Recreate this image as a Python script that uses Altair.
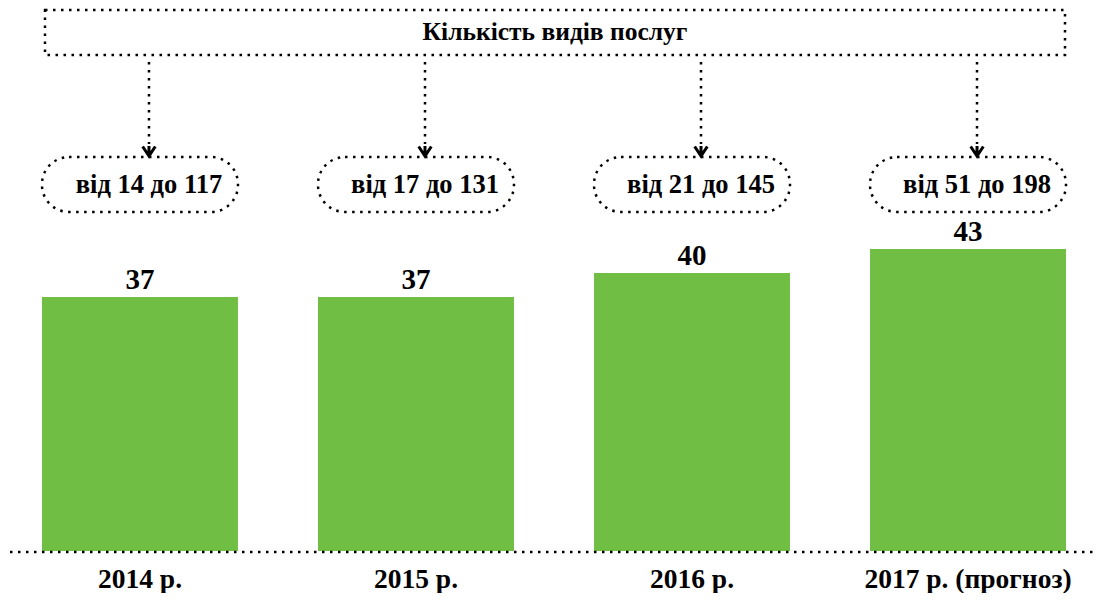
import altair as alt
import pandas as pd

# ---- data ----
years = ["2014 р.", "2015 р.", "2016 р.", "2017 р. (прогноз)"]
counts = [37, 37, 40, 43]
ranges = ["від 14 до 117", "від 17 до 131", "від 21 до 145", "від 51 до 198"]
header = ["Кількість видів послуг"]
axis_floor = 5.25  # value at which the dotted base line sits

df = pd.DataFrame({"year": years, "count": counts, "range": ranges})
hdr = pd.DataFrame({"t": header})

W, H = 1085, 585
FONT = "Liberation Serif"
GREEN = "#70bf44"
DOT = [2.5, 5.5]

xs = alt.X("year:N", sort=years, axis=None,
           scale=alt.Scale(range=[34, 1058], paddingInner=0.29, paddingOuter=0))
ys = alt.Y("count:Q", axis=None, scale=alt.Scale(domain=[0, 73.125]))

base = alt.Chart(df)

bars = base.mark_bar(color=GREEN).encode(x=xs, y=ys, y2=alt.datum(axis_floor))

values = base.mark_text(font=FONT, fontWeight="bold", fontSize=29, baseline="alphabetic",
                        dy=-8, color="black").encode(x=xs, y=ys, text="count:Q")

xlabels = base.mark_text(font=FONT, fontWeight="bold", fontSize=27.5, baseline="alphabetic",
                         color="black").encode(x=xs, y=alt.value(580), text="year:N")

baseline_rule = alt.Chart(hdr).mark_rule(color="black", strokeWidth=2.5, strokeDash=DOT).encode(
    x=alt.value(2), x2=alt.value(W), y=alt.value(544))

pills = base.mark_bar(fill="white", fillOpacity=0, stroke="black", strokeWidth=2.5,
                      strokeDash=DOT, cornerRadius=27).encode(
    x=xs, y=alt.value(149), y2=alt.value(204))

pill_text = base.mark_text(font=FONT, fontWeight="bold", fontSize=26.5, baseline="alphabetic",
                           xOffset=9, color="black").encode(x=xs, y=alt.value(185), text="range:N")

arrows = base.mark_rule(color="black", strokeWidth=2.5, strokeDash=DOT, xOffset=9).encode(
    x=xs, y=alt.value(54), y2=alt.value(136))

heads = base.mark_point(shape="M -1 -1.5 L 0 0 L 1 -1.5 M 0 -1.6 L 0 0", filled=False,
                        stroke="black", strokeWidth=3, size=160, opacity=1, xOffset=9).encode(
    x=xs, y=alt.value(148))

box = alt.Chart(hdr).mark_rect(fill="white", fillOpacity=0, stroke="black", strokeWidth=2.5,
                               strokeDash=DOT).encode(
    x=alt.value(37), x2=alt.value(1057), y=alt.value(2), y2=alt.value(47))

box_text = alt.Chart(hdr).mark_text(font=FONT, fontWeight="bold", fontSize=25.5,
                                    baseline="alphabetic", color="black").encode(
    x=alt.value(547), y=alt.value(32), text="t:N")

chart = alt.layer(bars, baseline_rule, values, xlabels, pills, pill_text, arrows, heads,
                  box, box_text).properties(
    width=W, height=H, padding=0,
    autosize=alt.AutoSizeParams(type="none"),
).configure(background="white").configure_view(stroke=None)

chart.save("out.html", embed_options={"renderer": "svg", "actions": False})
